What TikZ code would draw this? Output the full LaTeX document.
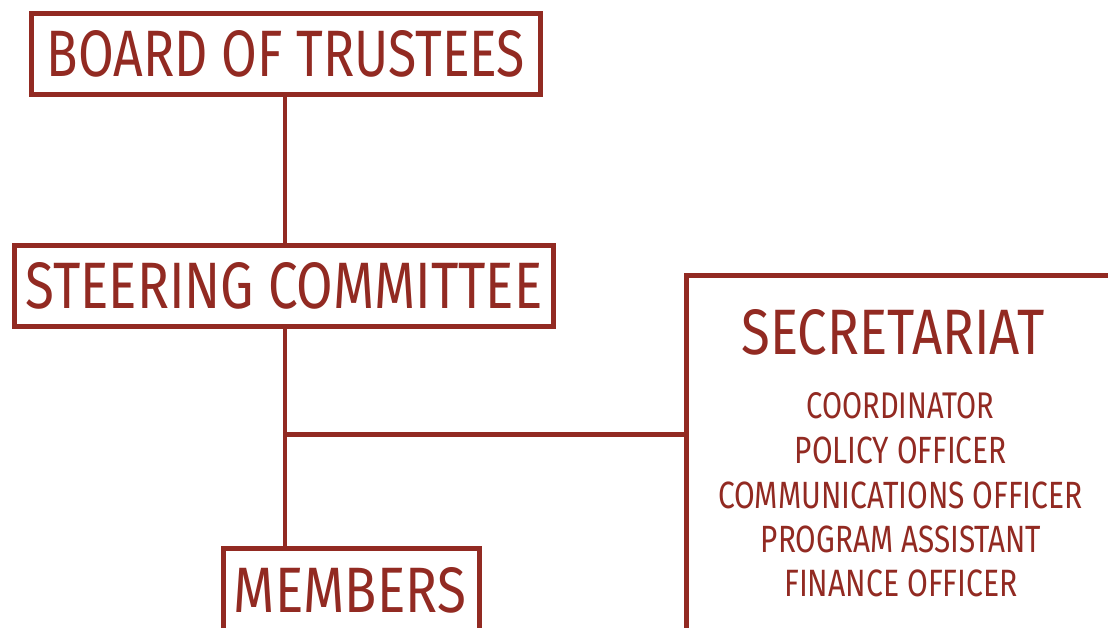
\documentclass[tikz,border=0pt]{standalone}
\usepackage{fontspec}
\setmainfont{Fira Sans}
\usepackage{graphicx}
\definecolor{brick}{RGB}{146,42,34}
\newcommand{\fitt}[3]{\resizebox{#1pt}{#2pt}{#3}}
\begin{document}
\begin{tikzpicture}[x=1pt,y=-1pt,
  box/.style={draw=brick, line width=4.6pt, inner sep=0pt, outer sep=0pt, text=brick},
  link/.style={draw=brick, line width=4.6pt},
  lbl/.style={inner sep=0pt, outer sep=0pt, text=brick}]
\useasboundingbox (0,0) rectangle (1108,628);
\clip (0,0) rectangle (1108,628);
\fill[white] (0,0) rectangle (1108,628);
% boxes
\node[box, minimum width=509.4pt, minimum height=81.4pt] (board) at (286,54)
  {\fitt{478}{46}{BOARD OF TRUSTEES}};
\node[box, minimum width=539.4pt, minimum height=81.4pt] (steer) at (284,286)
  {\fitt{517}{46}{STEERING COMMITTEE}};
\node[box, anchor=north west, minimum width=256.4pt, minimum height=90pt] (members) at (223.3,548.3) {};
\node[lbl] (memtxt) at (350,590.5) {\fitt{232}{45}{MEMBERS}};
\node[box, anchor=north west, minimum width=460pt, minimum height=400pt] (secr) at (686.7,275.8) {};
\node[lbl] (sectitle) at (893,332.5) {\fitt{303}{45}{SECRETARIAT}};
\node[lbl] (i1) at (900.4,405.3) {\fitt{187.3}{26}{COORDINATOR}};
\node[lbl] (i2) at (900.8,450) {\fitt{211.7}{26.6}{POLICY OFFICER}};
\node[lbl] (i3) at (900.5,495) {\fitt{364.4}{26.6}{COMMUNICATIONS OFFICER}};
\node[lbl] (i4) at (901,539) {\fitt{280}{26.6}{PROGRAM ASSISTANT}};
\node[lbl] (i5) at (901,583.3) {\fitt{233.4}{26.7}{FINANCE OFFICER}};
% connectors
\coordinate (spine) at (285,0);
\coordinate (junc) at (285,434.2);
\draw[link] (spine |- board.south) -- (spine |- steer.north);
\draw[link] (spine |- steer.south) -- (spine |- members.north);
\draw[link] (junc) -- (junc -| secr.west);
\end{tikzpicture}
\end{document}
